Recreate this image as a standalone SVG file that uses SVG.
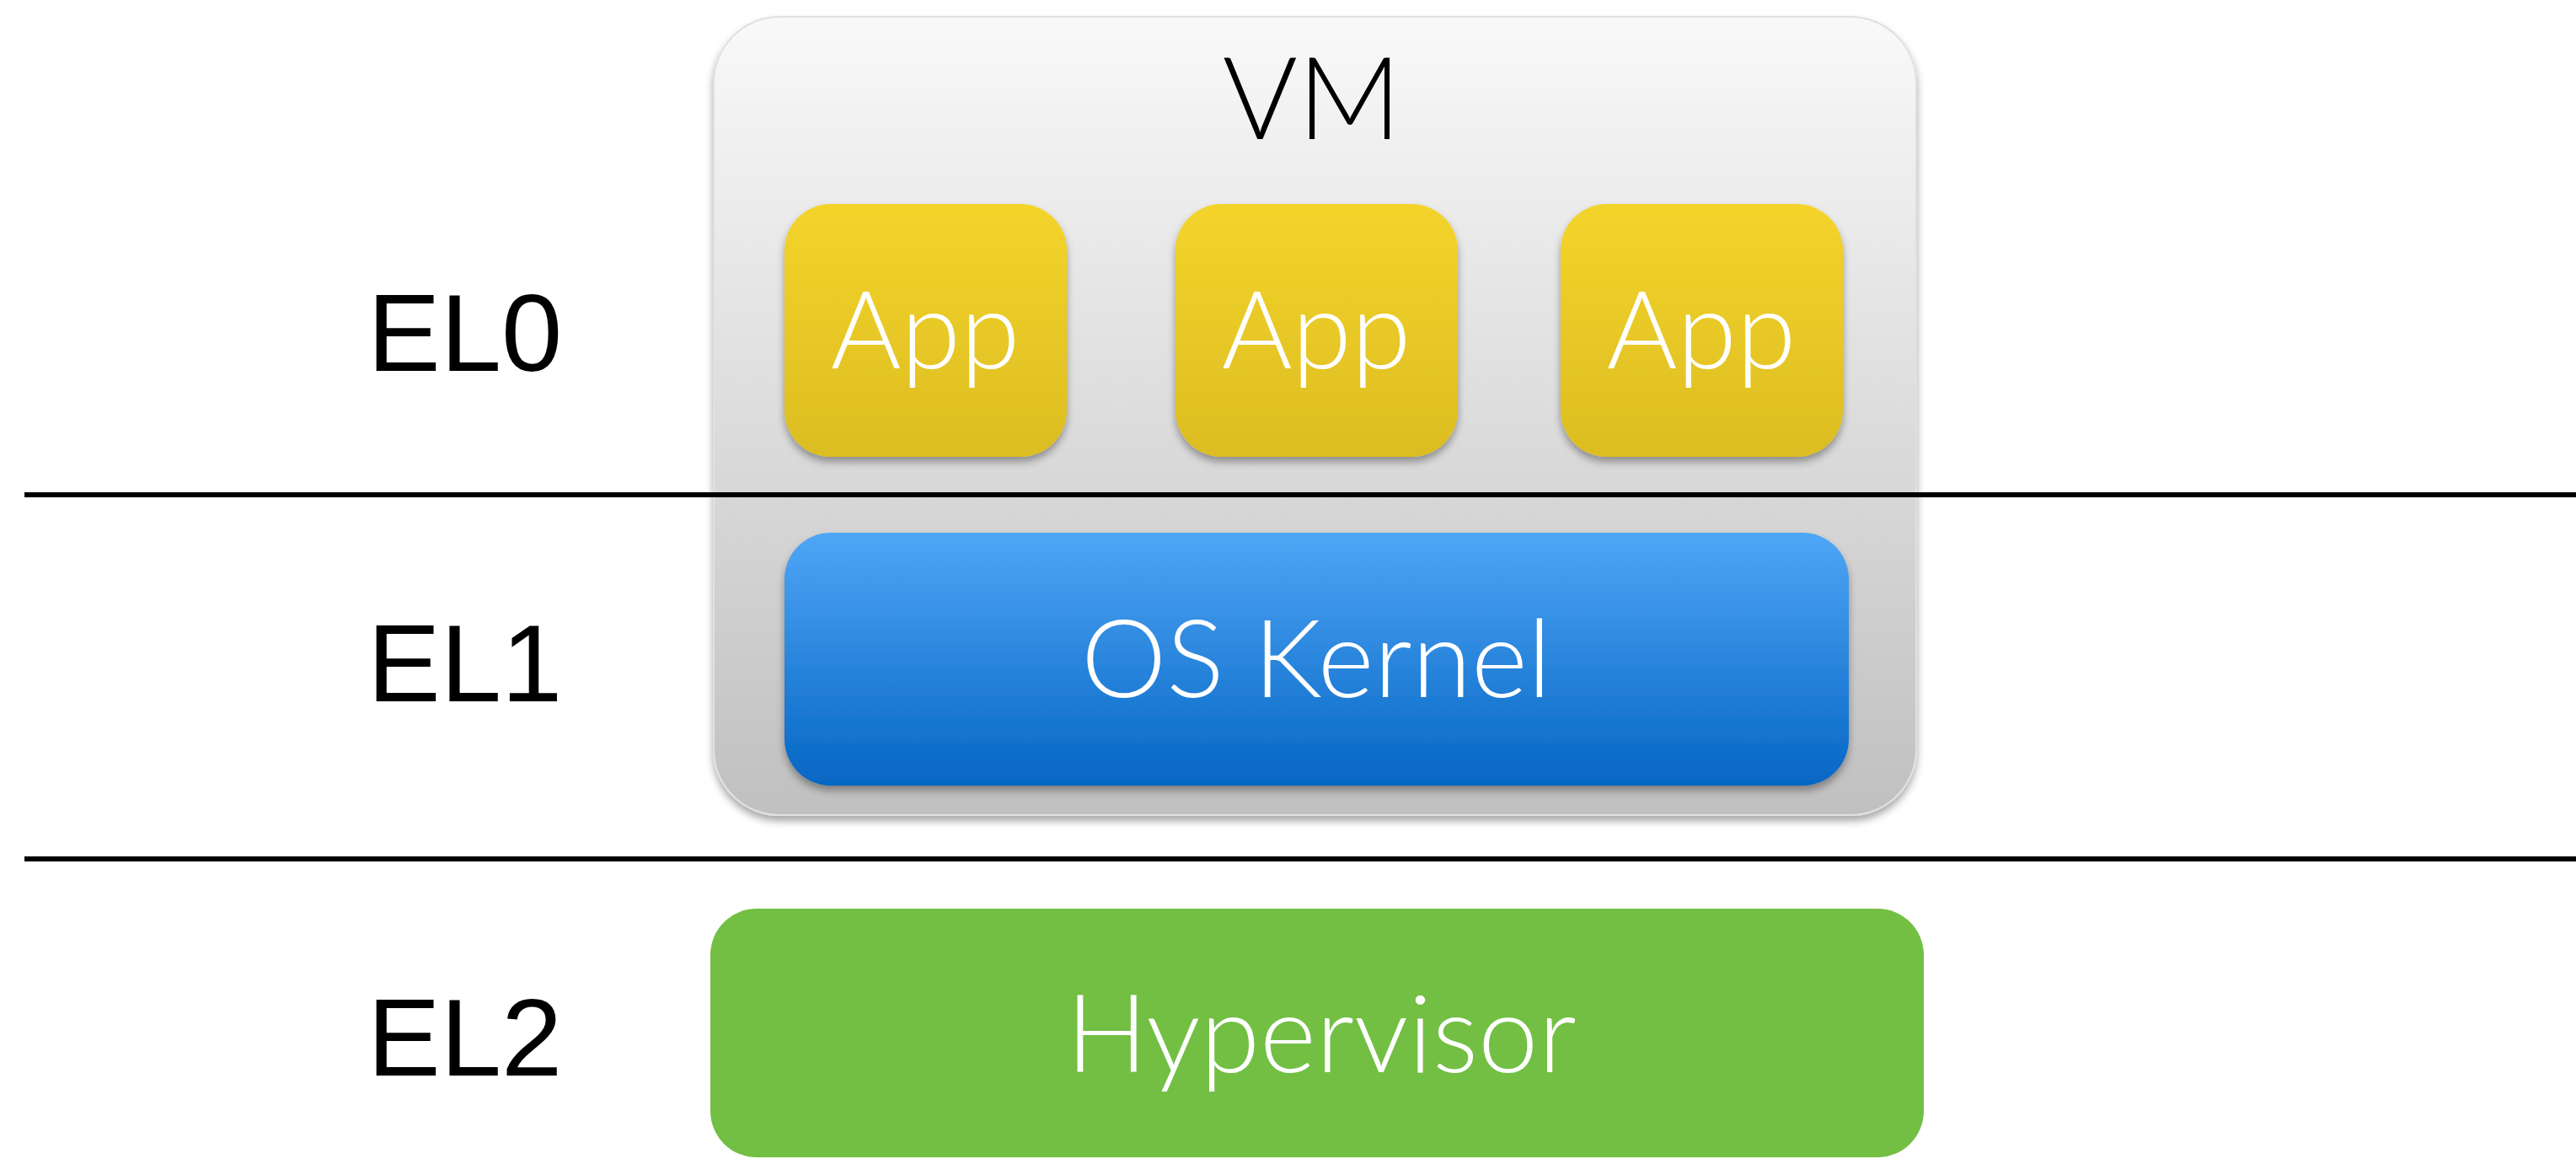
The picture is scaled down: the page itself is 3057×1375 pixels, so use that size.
<svg xmlns="http://www.w3.org/2000/svg" width="3057" height="1375" viewBox="0 0 3057 1375">
<defs>
<linearGradient id="gVM" x1="0" y1="0" x2="0" y2="1"><stop offset="0" stop-color="#f9f9f9"/><stop offset="1" stop-color="#c0c0c0"/></linearGradient>
<linearGradient id="gApp" x1="0" y1="0" x2="0" y2="1"><stop offset="0" stop-color="#f4d42a"/><stop offset="1" stop-color="#dcbd22"/></linearGradient>
<linearGradient id="gK" x1="0" y1="0" x2="0" y2="1"><stop offset="0" stop-color="#50a6f6"/><stop offset="1" stop-color="#0566c4"/></linearGradient>
<filter id="sh" x="-10%" y="-10%" width="120%" height="130%"><feDropShadow dx="0" dy="6" stdDeviation="5" flood-color="#000" flood-opacity="0.35"/></filter>
</defs>
<style>
.lbl{font-family:"Liberation Sans",Arial,sans-serif;font-size:130px;fill:#000}
.in{font-family:Lato,"Open Sans",sans-serif;font-weight:300;text-anchor:middle}
.w{fill:#fff;font-size:128px}
.sep{stroke:#000;stroke-width:6}
</style>
<rect width="3057" height="1375" fill="#fff"/>
<g id="vm">
<rect x="847" y="20" width="1427" height="947" rx="78" fill="url(#gVM)" stroke="#e0e0e0" stroke-width="2" filter="url(#sh)"/>
<text class="in" x="1557" y="165" font-size="136" fill="#000">VM</text>
</g>
<g id="app1"><rect x="931" y="242" width="335" height="300" rx="55" fill="url(#gApp)" filter="url(#sh)"/><text class="in w" x="1098" y="437">App</text></g>
<g id="app2"><rect x="1395" y="242" width="335" height="300" rx="55" fill="url(#gApp)" filter="url(#sh)"/><text class="in w" x="1562" y="437">App</text></g>
<g id="app3"><rect x="1852" y="242" width="335" height="300" rx="55" fill="url(#gApp)" filter="url(#sh)"/><text class="in w" x="2019" y="437">App</text></g>
<g id="kernel"><rect x="931" y="632" width="1263" height="300" rx="55" fill="url(#gK)" filter="url(#sh)"/><text class="in w" x="1562" y="827">OS Kernel</text></g>
<g id="hypervisor"><rect x="843" y="1078" width="1440" height="295" rx="55" fill="#72bf44"/><text class="in w" x="1568" y="1272">Hypervisor</text></g>
<g id="separators">
<line class="sep" x1="29" y1="587" x2="3057" y2="587"/>
<line class="sep" x1="29" y1="1019" x2="3057" y2="1019"/>
</g>
<g id="levels">
<text class="lbl" x="436" y="440">EL0</text>
<text class="lbl" x="436" y="832">EL1</text>
<text class="lbl" x="436" y="1276">EL2</text>
</g>
</svg>
